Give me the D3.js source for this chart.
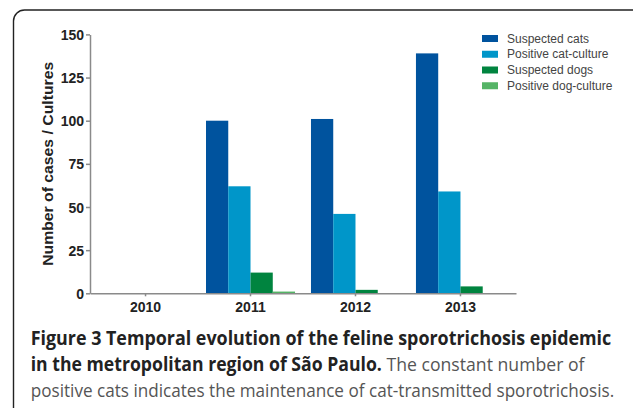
<!DOCTYPE html>
<html>
<head>
<meta charset="utf-8">
<script src="https://cdn.jsdelivr.net/npm/d3@7"></script>
<style>
  body { margin: 0; background: #fff; }
  svg { display: block; }
</style>
</head>
<body>
<div id="chart"></div>
<script>
// data
var years = ["2010", "2011", "2012", "2013"];
var seriesNames = ["Suspected cats", "Positive cat-culture", "Suspected dogs", "Positive dog-culture"];
var suspectedCats = [0, 100, 101, 139];
var positiveCatCulture = [0, 62, 46, 59];
var suspectedDogs = [0, 12, 2, 4];
var positiveDogCulture = [0, 1, 0, 0];
var yTicks = [0, 25, 50, 75, 100, 125, 150];
var colors = ["#00539e", "#0096c9", "#00843f", "#55b466"];

var seriesValues = [suspectedCats, positiveCatCulture, suspectedDogs, positiveDogCulture];

var W = 633, H = 408;
var svg = d3.select("#chart").append("svg")
    .attr("width", W)
    .attr("height", H);

//Frame round the figure (runs off the bottom / right of the picture)
svg.append("rect")
    .attr("x", 13.5).attr("y", 10)
    .attr("width", 630).attr("height", 410)
    .attr("rx", 11).attr("ry", 11)
    .attr("fill", "none")
    .attr("stroke", "#222")
    .attr("stroke-width", 1.4);

//Scales
var y = d3.scaleLinear().domain([0, 150]).range([293.3, 34.4]);
var x0 = d3.scaleBand().domain(years).range([90, 516])
    .paddingInner(0.152).paddingOuter(0.105);
var x1 = d3.scaleBand().domain(seriesNames).range([0, x0.bandwidth()]);

//Bars
var groups = svg.append("g").selectAll("g")
    .data(years)
  .enter().append("g")
    .attr("transform", function(d) { return "translate(" + x0(d) + ",0)"; });

groups.selectAll("rect")
    .data(function(d, i) {
      return seriesNames.map(function(s, j) { return {name: s, value: seriesValues[j][i], color: colors[j]}; });
    })
  .enter().append("rect")
    .attr("x", function(d) { return x1(d.name); })
    .attr("y", function(d) { return y(d.value); })
    .attr("width", x1.bandwidth())
    .attr("height", function(d) { return y(0) - y(d.value); })
    .attr("fill", function(d) { return d.color; });

//Axes
var yAxis = svg.append("g")
    .attr("transform", "translate(90,0)")
    .call(d3.axisLeft(y).tickValues(yTicks).tickSize(4).tickSizeOuter(0).tickPadding(2));
var xAxis = svg.append("g")
    .attr("transform", "translate(0," + y(0) + ")")
    .call(d3.axisBottom(x0).tickSize(3).tickSizeOuter(0).tickPadding(6));

[yAxis, xAxis].forEach(function(a) {
  a.selectAll("path, line").attr("stroke", "#8a8a8a").attr("stroke-width", 1.5);
  a.selectAll("text")
    .attr("fill", "#222")
    .style("font-family", "'Liberation Sans', Arial, sans-serif")
    .style("font-weight", "bold")
    .style("font-size", "14px");
});
yAxis.selectAll("text").attr("dy", "0.36em");

//Y title
svg.append("text")
    .attr("transform", "translate(53," + ((y(0) + y(150)) / 2) + ") rotate(-90)")
    .attr("text-anchor", "middle")
    .attr("fill", "#222")
    .attr("textLength", 204)
    .attr("lengthAdjust", "spacingAndGlyphs")
    .style("font-family", "'Liberation Sans', Arial, sans-serif")
    .style("font-weight", "bold")
    .style("font-size", "14px")
    .text("Number of cases / Cultures");

//Legend
var legend = svg.append("g").attr("transform", "translate(482,35)");
var rows = legend.selectAll("g")
    .data(seriesNames)
  .enter().append("g")
    .attr("transform", function(d, i) { return "translate(0," + (i * 15.75) + ")"; });
rows.append("rect")
    .attr("width", 16).attr("height", 7)
    .attr("fill", function(d, i) { return colors[i]; });
rows.append("text")
    .attr("x", 25).attr("y", 7.5)
    .attr("fill", "#444")
    .style("font-family", "'Liberation Sans', Arial, sans-serif")
    .style("font-size", "12px")
    .text(function(d) { return d; });

//Caption, each line squeezed to the width it has in the figure
var captionLines = [
  {y: 345, width: 581, parts: [["Figure 3 Temporal evolution of the feline sporotrichosis epidemic", true]]},
  {y: 371, width: 554, parts: [["in the metropolitan region of São Paulo.", true], [" The constant number of", false]]},
  {y: 397, width: 584, parts: [["positive cats indicates the maintenance of cat-transmitted sporotrichosis.", false]]}
];
captionLines.forEach(function(line) {
  var t = svg.append("text")
      .attr("x", 0).attr("y", 0)
      .style("font-family", "'Open Sans', 'Noto Sans', sans-serif")
      .style("font-size", "19px");
  line.parts.forEach(function(p) {
    t.append("tspan")
      .attr("fill", p[1] ? "#222" : "#555")
      .style("font-weight", p[1] ? "bold" : "normal")
      .text(p[0]);
  });
  var w = t.node().getComputedTextLength();
  t.attr("transform", "translate(30.7," + line.y + ") scale(" + (line.width / w) + ",1)");
});
</script>
</body>
</html>
